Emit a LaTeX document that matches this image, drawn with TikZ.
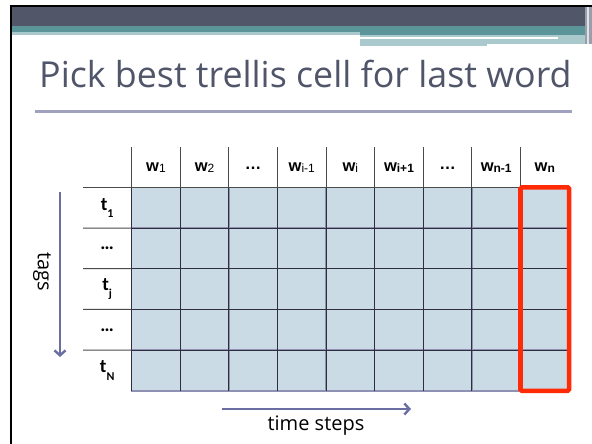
\documentclass[tikz,border=0pt]{standalone}
\usepackage{fontspec}
\setmainfont{Liberation Sans}
\newfontfamily\titlefont{Open Sans}
\newfontfamily\labfont{Open Sans}
\newfontfamily\rowfont{Carlito}
\usetikzlibrary{arrows.meta,calc}

\definecolor{bandcol}{HTML}{525669}
\definecolor{tealcol}{HTML}{5B9599}
\definecolor{ltealcol}{HTML}{A9C9CC}
\definecolor{sidecol}{HTML}{9A9DAB}
\definecolor{titlecol}{HTML}{50556A}
\definecolor{rulecol}{HTML}{9FA1BF}
\definecolor{cellfill}{HTML}{CBDBE6}
\definecolor{celledge}{HTML}{8F91B3}
\definecolor{gridcol}{HTML}{2E2E3E}
\definecolor{headline}{HTML}{4A4A4A}
\definecolor{arrowcol}{HTML}{6A6EA3}
\definecolor{pickcol}{HTML}{FF2B06}

% index of a column label: smaller, nearly on the baseline
\newcommand\colidx[1]{\raisebox{-0.1em}{\fontsize{12}{12}\selectfont #1}}
% index of a row label: smaller and dropped below the baseline
\newcommand\rowidx[1]{\raisebox{-0.38em}{\fontsize{12}{12}\selectfont #1}}

\tikzset{
  cell/.style={draw=celledge, line width=1.4pt, fill=cellfill,
    minimum width=48.6pt, minimum height=40.7pt, inner sep=0pt, outer sep=0pt},
  gridline/.style={draw=gridcol, line width=1pt},
  headsep/.style={draw=headline, line width=1pt},
  colhead/.style={font=\fontsize{16.5}{16.5}\selectfont\bfseries, inner sep=0pt},
  rowhead/.style={font=\rowfont\fontsize{19}{19}\selectfont\bfseries, inner sep=0pt},
  axislabel/.style={font=\labfont\fontsize{20}{20}\selectfont, inner sep=0pt},
  axisarrow/.style={draw=arrowcol, line width=2.4pt,
    -{Straight Barb[length=5pt, width=11pt]}},
  pickbox/.style={draw=pickcol, line width=4.6pt, rounded corners=1.5pt},
}

\begin{document}
\begin{tikzpicture}[x=1pt, y=-1pt]
\useasboundingbox (0,0) rectangle (592,444);
\fill[white] (0,0) rectangle (592,444);

% slide frame and header bands
\fill[black] (10,5) rectangle (12,444);
\fill[black] (10,5) rectangle (592,7);
\fill[bandcol] (12,7) rectangle (585,26);
\fill[tealcol] (12,26) rectangle (585,32);
\fill[ltealcol] (12,32) rectangle (360,35);
\fill[tealcol] (360,32) rectangle (585,35);
\fill[ltealcol] (360,35) rectangle (588,46);
\fill[white] (360,37.2) rectangle (558,39.2);
\fill[white] (487,44) rectangle (588,46);
\fill[sidecol] (585,7) rectangle (592,44);
\fill[white!70!sidecol] (587,7) rectangle (588.5,44);

% title
\node[anchor=base west, inner sep=0pt, text=titlecol,
  font=\titlefont\fontsize{35.8}{35.8}\selectfont] (title) at (39,88)
  {Pick best trellis cell for last word};
\draw[rulecol, line width=2.2pt] (35,111.5) -- (572,111.5);

% trellis cells
\foreach \r in {1,...,5}
  \foreach \c in {1,...,9}
    \node[cell] (c\r-\c) at ({131.7+48.6*(\c-0.5)}, {187.3+40.7*(\r-0.5)}) {};

% inner grid lines
\foreach \c in {1,...,8}
  \draw[gridline] (c1-\c.north east) -- (c5-\c.south east);
\foreach \r in {1,...,4}
  \draw[gridline] (c\r-1.south west) -- (c\r-9.south east);
\draw[gridline] (c1-1.north west) -- (c5-1.south west);

% header rule and separators
\coordinate (hl) at (83,187.3);
\draw[headsep] (hl) -- (c1-9.north east);
\foreach \r in {1,...,4}
  \draw[headsep] (83,{187.3+40.7*\r}) -- (c\r-1.south west);
\foreach \c in {1,...,9}
  \draw[headsep] (c1-\c.north west) -- ++(0,-40.5);

% column labels
\foreach \c/\t in {1/w\colidx{\mdseries 1}, 2/w\colidx{\mdseries 2}, 3/\dots,
    4/w\colidx{\mdseries i-1}, 5/w\colidx{\mdseries i}, 6/w\colidx{i+1},
    7/\dots, 8/w\colidx{n-1}, 9/w\colidx{n}}
  \node[colhead] (h\c) at ($(c1-\c.north)+(0,-19.5)$) {\t};

% row labels
\foreach \r/\t in {1/t\rowidx{1}, 2/\dots, 3/t\rowidx{j}, 4/\dots, 5/t\rowidx{N}}
  \node[rowhead] (r\r) at ($(c\r-1.west)+(-24.5,0)$) {\t};

% highlighted last column
\draw[pickbox] (c1-9.north west) rectangle (c5-9.south east);

% axes
\coordinate (tagtop) at (60,192);
\coordinate (tagbot) at (60,357);
\draw[axisarrow] (tagtop) -- (tagbot);
\node[axislabel, rotate=-90] (tags) at (42,272) {tags};
\coordinate (timel) at (222,409);
\coordinate (timer) at (411,409);
\draw[axisarrow] (timel) -- (timer);
\node[axislabel] (time) at (316,426) {time steps};
\end{tikzpicture}
\end{document}
